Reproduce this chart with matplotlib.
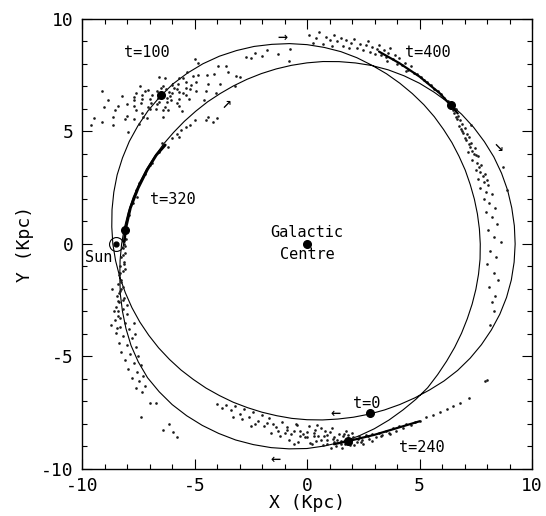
import numpy as np
import matplotlib
matplotlib.use('Agg')
import matplotlib.pyplot as plt
from matplotlib.ticker import MultipleLocator

plt.rcParams['font.family'] = ['DejaVu Sans Mono', 'DejaVu Sans']
plt.rcParams['axes.unicode_minus'] = False

# orbit: polar angle (deg, clockwise, unwrapped) and radius (kpc)
orbit_theta = [130, 125, 120, 115, 110, 105, 100, 95, 90, 85, 80, 75, 70, 65, 60, 55,
               50, 45, 40, 35, 30, 25, 20, 15, 10, 5, 0, -5, -10, -15, -20, -25,
               -30, -35, -40, -45, -50, -55, -60, -65, -70, -75, -80, -85, -90, -95,
               -100, -105, -110, -115, -120, -125, -130, -135, -140, -145, -150, -155,
               -160, -165, -170, -175, -180, -185, -190, -195, -200, -205, -210, -215,
               -220, -225, -230, -235, -240, -245, -250, -255, -260, -265, -270, -275,
               -280, -285, -290, -295, -300, -305, -310, -315, -320, -325, -330, -335,
               -340, -345, -350, -355, -360, -365, -370, -375, -380, -385, -390, -395,
               -400, -405, -410, -415, -420, -425, -430, -435, -440, -445, -450, -455,
               -460, -465, -470, -475, -480, -485, -490, -495, -500, -505, -510, -515,
               -520, -525, -530, -535, -540, -545, -550, -555, -560, -565, -570, -575,
               -580, -585, -590]
orbit_r = [9.28, 9.27, 9.25, 9.21, 9.15, 9.09, 9.01, 8.94, 8.86, 8.77, 8.68, 8.57, 8.45, 8.35, 8.25, 8.16,
           8.08, 8.00, 7.92, 7.86, 7.80, 7.76, 7.72, 7.70, 7.69, 7.69, 7.70, 7.72, 7.74, 7.77, 7.81, 7.86,
           7.93, 8.01, 8.10, 8.21, 8.34, 8.43, 8.52, 8.63, 8.74, 8.84, 8.93, 9.01, 9.09, 9.14,
           9.19, 9.23, 9.27, 9.29, 9.31, 9.32, 9.32, 9.29, 9.25, 9.15, 9.03, 8.88,
           8.73, 8.59, 8.45, 8.34, 8.24, 8.15, 8.07, 8.00, 7.93, 7.87, 7.81, 7.77,
           7.73, 7.71, 7.70, 7.71, 7.72, 7.75, 7.79, 7.84, 7.90, 7.97, 8.05, 8.14,
           8.23, 8.33, 8.44, 8.54, 8.63, 8.72, 8.80, 8.89, 8.97, 9.04, 9.10, 9.16,
           9.20, 9.23, 9.24, 9.25, 9.25, 9.24, 9.22, 9.18, 9.12, 9.04, 8.95, 8.85,
           8.74, 8.61, 8.47, 8.35, 8.24, 8.14, 8.05, 7.97, 7.90, 7.85, 7.81, 7.78,
           7.75, 7.74, 7.74, 7.76, 7.78, 7.82, 7.86, 7.92, 7.98, 8.05, 8.12, 8.20,
           8.28, 8.36, 8.45, 8.54, 8.63, 8.71, 8.80, 8.89, 8.98, 9.05, 9.12, 9.17,
           9.22, 9.25, 9.28]

# satellite positions
t_labels = ['t=0', 't=100', 't=240', 't=320', 't=400']
t_x = [2.80, -6.50, 1.83, -8.07, 6.40]
t_y = [-7.53, 6.62, -8.75, 0.64, 6.17]
t_lab_x = [2.66, -7.10, 5.10, -5.95, 5.38]
t_lab_y = [-7.09, 8.49, -9.03, 1.97, 8.49]

gc_x, gc_y = [0.0], [0.0]
sun_x, sun_y = [-8.5], [0.0]

arrow_text = ['→', '↗', '↘', '←', '←']
arrow_x = [-1.09, -3.59, 8.49, 1.26, -1.41]
arrow_y = [9.19, 6.27, 4.34, -7.49, -9.54]

# stream particles
t100_x = [-6.43, -6.05, -6.88, -5.92, -6.96, -5.52, -7.37, -6.38, -6.42, -5.37,
          -7.59, -5.78, -7.06, -4.92, -8.01, -6.22, -6.66, -5.70, -7.35, -5.26,
          -7.31, -6.30, -6.41, -4.84, -8.08, -4.39, -8.54, -5.32, -7.46, -5.71,
          -6.95, -6.12, -6.60, -4.12, -8.61, -4.03, -9.01, -3.94, -9.09, -4.56,
          -8.24, -5.55, -7.44, -5.21, -7.59, -6.20, -6.58, -3.52, -9.48, -4.83,
          -7.97, -5.38, -6.70, -6.02, -7.69, -4.95, -7.70, -3.85, -8.86, -3.14,
          -6.24, -6.56, -5.99, -6.97, -5.69, -6.68, -6.27, -7.05, -5.72, -7.33,
          -5.40, -7.33, -5.17, -7.70, -6.51, -6.31, -5.68, -7.20, -5.05, -8.02,
          -4.49, -8.40, -6.07, -6.61, -5.79, -7.68, -5.49, -7.09, -4.43, -8.64,
          -4.5, -4.2, -4.0, -4.4, -3.2, -3.0, -2.7, -2.3, -2.0, -1.8,
          -1.3, -0.8, -0.75, -9.1, -9.6, -2.5, -3.6, -5.0]
t100_y = [6.59, 6.41, 6.64, 6.94, 5.98, 6.71, 6.25, 7.04, 5.96, 7.19,
          5.96, 6.25, 6.85, 6.82, 6.24, 6.30, 6.78, 6.76, 6.63, 6.43,
          5.64, 7.39, 5.65, 7.49, 5.57, 7.12, 5.94, 7.63, 5.32, 7.39,
          6.25, 6.76, 6.32, 7.54, 5.27, 6.72, 6.09, 7.92, 5.42, 6.42,
          6.58, 5.91, 7.03, 6.88, 6.71, 5.94, 7.44, 7.65, 5.60, 8.03,
          4.97, 6.92, 6.02, 7.06, 6.40, 7.19, 5.55, 7.10, 6.41, 7.47,
          6.50, 6.65, 6.70, 6.45, 6.44, 6.24, 6.87, 6.10, 7.12, 6.43,
          6.60, 5.84, 7.05, 6.14, 6.94, 6.11, 6.12, 6.80, 7.47, 5.70,
          6.82, 6.15, 6.57, 6.48, 6.88, 6.52, 7.36, 5.61, 7.53, 5.64,
          5.5, 5.4, 5.6, 5.65, 7.0, 7.4, 8.3, 8.5, 8.35, 8.6,
          8.45, 8.15, 8.65, 6.8, 5.3, 8.25, 7.9, 8.2]

arc_x = [0.1, 0.25, 0.4, 0.55, 0.7, 0.85, 1.0, 1.1, 1.2, 1.35,
         1.5, 1.6, 1.75, 1.85, 1.95, 2.1, 2.2, 2.35, 2.5, 2.6,
         2.7, 2.8, 2.9, 3.0, 3.1, 3.2, 3.3, 3.4, 3.5, 3.6,
         3.7, 3.8, 3.9, 4.0, 4.1, 4.2, 4.35, 4.5, 4.6, 4.75,
         4.9, 5.05, 5.2, 5.35, 5.5, 5.65, 5.8, 5.95, 6.1, 6.25,
         4.4, 3.55]
arc_y = [9.3, 8.95, 9.15, 9.4, 8.9, 9.2, 9.05, 8.8, 9.3, 9.0,
         9.15, 8.8, 9.05, 8.7, 8.95, 9.1, 8.7, 8.9, 8.6, 8.85,
         9.0, 8.55, 8.75, 8.45, 8.65, 8.85, 8.4, 8.6, 8.3, 8.5,
         8.7, 8.2, 8.4, 8.0, 8.25, 7.95, 8.05, 7.75, 7.9, 7.6,
         7.55, 7.4, 7.3, 7.2, 7.05, 6.9, 6.8, 6.65, 6.5, 6.35,
         7.7, 8.15]

right_x = [6.5, 6.6, 6.55, 6.7, 6.65, 6.8, 6.9, 6.75, 7.0, 6.95,
           7.1, 7.2, 7.05, 7.3, 7.25, 7.45, 7.15, 7.4, 7.6, 7.35,
           7.55, 7.75, 7.5, 7.7, 7.9, 7.6, 7.85, 8.05, 7.7, 7.95,
           8.2, 7.85, 8.1, 8.35, 7.95, 8.2, 8.45, 8.05, 8.3, 8.6,
           8.15, 8.4, 8.0, 8.3, 8.5, 8.1, 8.35, 8.2, 8.15, 8.3,
           8.7, 8.9, 7.3, 7.92, 6.62, 6.85, 7.0, 7.2, 6.9, 7.35,
           7.5, 7.65, 7.8, 8.0]
right_y = [5.95, 6.0, 5.8, 5.7, 5.55, 5.5, 5.35, 5.25, 5.15, 4.95,
           4.9, 4.75, 4.6, 4.5, 4.3, 4.25, 4.1, 4.0, 3.9, 3.75,
           3.6, 3.5, 3.3, 3.2, 3.1, 2.9, 2.75, 2.6, 2.5, 2.3,
           2.2, 2.0, 1.8, 1.6, 1.4, 1.2, 0.9, 0.6, 0.3, 0.1,
           -0.3, -0.6, -0.9, -1.3, -1.6, -1.9, -2.3, -2.6, -3.6, -3.0,
           3.4, 2.4, 5.3, -6.1, 5.65, 5.1, 4.7, 4.45, 5.0, 4.15,
           3.95, 3.4, 3.0, 2.85]

upper_left_x = [-7.9, -7.6, -7.45, -7.0, -7.2, -6.6, -6.9, -7.75, -7.55, -6.0,
                -5.8, -5.6, -5.4, -5.7, -5.2, -5.0, -6.2, -6.45]
upper_left_y = [1.3, 2.4, 2.7, 3.5, 3.1, 4.1, 3.6, 1.8, 2.1, 4.7,
                4.9, 5.05, 5.2, 4.75, 5.3, 5.5, 4.3, 4.5]

left_x = [-8.05, -8.15, -8.2, -8.1, -8.25, -8.15, -8.3, -8.2, -8.35, -8.25,
          -8.4, -8.2, -8.3, -8.45, -8.15, -8.35, -8.5, -8.2, -8.0, -8.4,
          -8.55, -8.1, -8.3, -7.9, -8.5, -8.2, -7.8, -8.35, -8.0, -7.6,
          -8.25, -7.85, -7.5, -8.1, -7.7, -7.4, -7.95, -7.55, -7.3, -7.8,
          -7.45, -7.2, -7.6, -7.35, -7.0, -6.7, -7.4, -6.15, -6.4, -5.95,
          -5.8, -8.65, -8.6, -8.7, -7.7, -8.1, -8.25, -8.4, -8.0, -7.65,
          -8.1, -8.2, -8.15, -8.3, -8.25, -8.35, -8.2, -8.4, -8.3, -8.45]
left_y = [0.2, 0.0, -0.2, -0.4, -0.6, -0.8, -1.0, -1.2, -1.4, -1.6,
          -1.8, -1.9, -2.1, -2.3, -2.4, -2.6, -2.8, -2.9, -3.1, -3.2,
          -3.4, -3.5, -3.7, -3.8, -3.95, -4.1, -4.2, -4.4, -4.5, -4.6,
          -4.8, -4.9, -5.0, -5.15, -5.3, -5.4, -5.55, -5.7, -5.85, -5.95,
          -6.1, -6.3, -6.4, -6.6, -7.05, -7.05, -7.7, -8.0, -8.27, -8.37,
          -8.56, -2.0, -3.0, -3.6, -3.5, -1.1, -2.0, -2.55, -2.7, -4.0,
          -0.1, -0.5, -0.9, -1.3, -1.7, -2.2, -2.5, -3.0, -3.3, -3.75]

bottom_x = [-4.0, -3.8, -3.6, -3.4, -3.2, -3.0, -2.8, -2.6, -2.9, -2.4,
            -2.2, -2.0, -1.9, -1.7, -1.5, -1.3, -1.1, -0.9, -0.7, -0.5,
            -0.3, -0.1, 0.1, 0.3, 0.4, 0.6, 0.75, 0.9, 1.0, 1.15,
            1.3, 1.4, 1.5, 1.6, 1.7, 1.85, 1.95, 2.05, 2.2, 2.3,
            2.45, 2.6, 2.75, 2.9, 3.05, 3.2, 3.35, 3.5, 3.65, 3.8,
            3.95, 4.1, 4.25, 4.4, 4.6, 4.8, 5.0, 5.3, 5.6, 5.9,
            6.2, 6.5, 6.8, 7.2, 8.0, -1.2, -0.8, -0.4, 0.0, 0.2,
            0.5, 0.8, 1.2, -0.6, -1.0, 0.45, 1.05, 1.55, 2.5, 2.0,
            1.75, -2.5, -3.3, -1.6,
            0.0, 0.3, 0.6, 0.9, 1.2, 1.5, 1.8, 2.1, 2.4, 2.7,
            -0.3, -0.6, 0.15, 0.7, 1.35, 1.65, 2.25, 2.9, 3.3, 3.7,
            -1.4, -0.9, -0.2, 0.9, 1.9, -1.8, -2.3, -0.45, 0.35, 1.1]
bottom_y = [-7.1, -7.3, -7.15, -7.4, -7.2, -7.55, -7.35, -7.7, -7.8, -7.45,
            -7.85, -7.6, -8.1, -7.75, -8.0, -8.3, -7.9, -8.15, -8.45, -8.0,
            -8.3, -8.6, -8.1, -8.4, -8.75, -8.2, -8.55, -8.9, -8.35, -8.65,
            -9.0, -8.45, -8.75, -8.55, -8.9, -8.65, -8.85, -8.6, -8.8, -8.55,
            -8.7, -8.5, -8.65, -8.45, -8.6, -8.4, -8.5, -8.3, -8.4, -8.2,
            -8.3, -8.1, -8.2, -8.0, -8.05, -7.9, -7.85, -7.7, -7.6, -7.45,
            -7.35, -7.2, -7.05, -6.85, -6.06, -8.55, -8.7, -8.8, -8.35, -8.9,
            -8.55, -8.3, -8.8, -8.3, -8.4, -8.05, -9.05, -9.05, -8.9, -8.4,
            -8.3, -8.1, -7.7, -8.4,
            -8.6, -8.55, -8.7, -8.5, -8.6, -8.9, -8.5, -8.95, -8.8, -8.55,
            -8.55, -8.9, -8.85, -8.95, -8.7, -8.45, -8.65, -8.75, -8.55, -8.45,
            -8.15, -8.25, -8.45, -8.7, -8.95, -7.95, -8.0, -8.05, -8.25, -8.2]

# dense cores of the stream, drawn as thick strokes
core320_x = [-8.12, -8.07, -7.85, -7.5, -7.1, -6.7, -6.3]
core320_y = [0.1, 0.64, 1.6, 2.5, 3.3, 3.95, 4.4]
core400_x = [3.2, 4.1, 5.0, 5.9, 6.4, 6.7]
core400_y = [8.55, 8.04, 7.44, 6.7, 6.15, 5.8]
core240_x = [1.2, 2.0, 3.0, 4.0, 5.0]
core240_y = [-8.9, -8.72, -8.48, -8.18, -7.88]

fig = plt.figure(figsize=(5.46, 5.16), dpi=100)
ax = fig.add_axes([0.1502, 0.0911, 0.8242, 0.8721])

th = np.radians(orbit_theta)
r = np.array(orbit_r)
ax.plot(r * np.cos(th), r * np.sin(th), color='k', lw=0.8)

for sx, sy in [(t100_x, t100_y), (arc_x, arc_y), (right_x, right_y),
               (upper_left_x, upper_left_y), (left_x, left_y), (bottom_x, bottom_y)]:
    ax.plot(sx, sy, 'o', color='0.1', ms=1.9, mew=0, ls='none')

ax.plot(core320_x, core320_y, color='k', lw=2.0, solid_capstyle='round')
ax.plot(core400_x, core400_y, color='k', lw=1.6, solid_capstyle='round')
ax.plot(core240_x, core240_y, color='k', lw=1.6, solid_capstyle='round')

ax.plot(t_x, t_y, 'o', color='k', ms=5.5, ls='none')
ax.plot(gc_x, gc_y, 'o', color='k', ms=5.5, ls='none')
ax.plot(sun_x, sun_y, 'o', color='k', ms=3.5, ls='none')
ax.plot(sun_x, sun_y, 'o', mfc='none', mec='k', ms=10, mew=0.8, ls='none')

for lab, lx, ly in zip(t_labels, t_lab_x, t_lab_y):
    ax.text(lx, ly, lab, fontsize=11, ha='center', va='center')
ax.text(0, 0.49, 'Galactic', fontsize=11, ha='center', va='center')
ax.text(0, -0.47, 'Centre', fontsize=11, ha='center', va='center')
ax.text(-9.24, -0.62, 'Sun', fontsize=11, ha='center', va='center')

for a, axx, ayy in zip(arrow_text, arrow_x, arrow_y):
    ax.text(axx, ayy, a, fontsize=12, ha='center', va='center')

ax.set_xlim(-10, 10)
ax.set_ylim(-10, 10)
ax.set_xticks([-10, -5, 0, 5, 10])
ax.set_yticks([-10, -5, 0, 5, 10])
ax.xaxis.set_minor_locator(MultipleLocator(1))
ax.yaxis.set_minor_locator(MultipleLocator(1))
ax.tick_params(which='both', direction='in', top=True, right=True, width=0.8)
ax.tick_params(which='major', length=7, labelsize=13, pad=6)
ax.tick_params(which='minor', length=3.5)
for sp in ax.spines.values():
    sp.set_linewidth(1.0)

ax.set_xlabel('X (Kpc)', fontsize=13, va='center')
ax.xaxis.set_label_coords(0.5, -0.076)
ax.set_ylabel('Y (Kpc)', fontsize=13, va='center')
ax.yaxis.set_label_coords(-0.127, 0.5)

fig.savefig('out.png', dpi=100)
